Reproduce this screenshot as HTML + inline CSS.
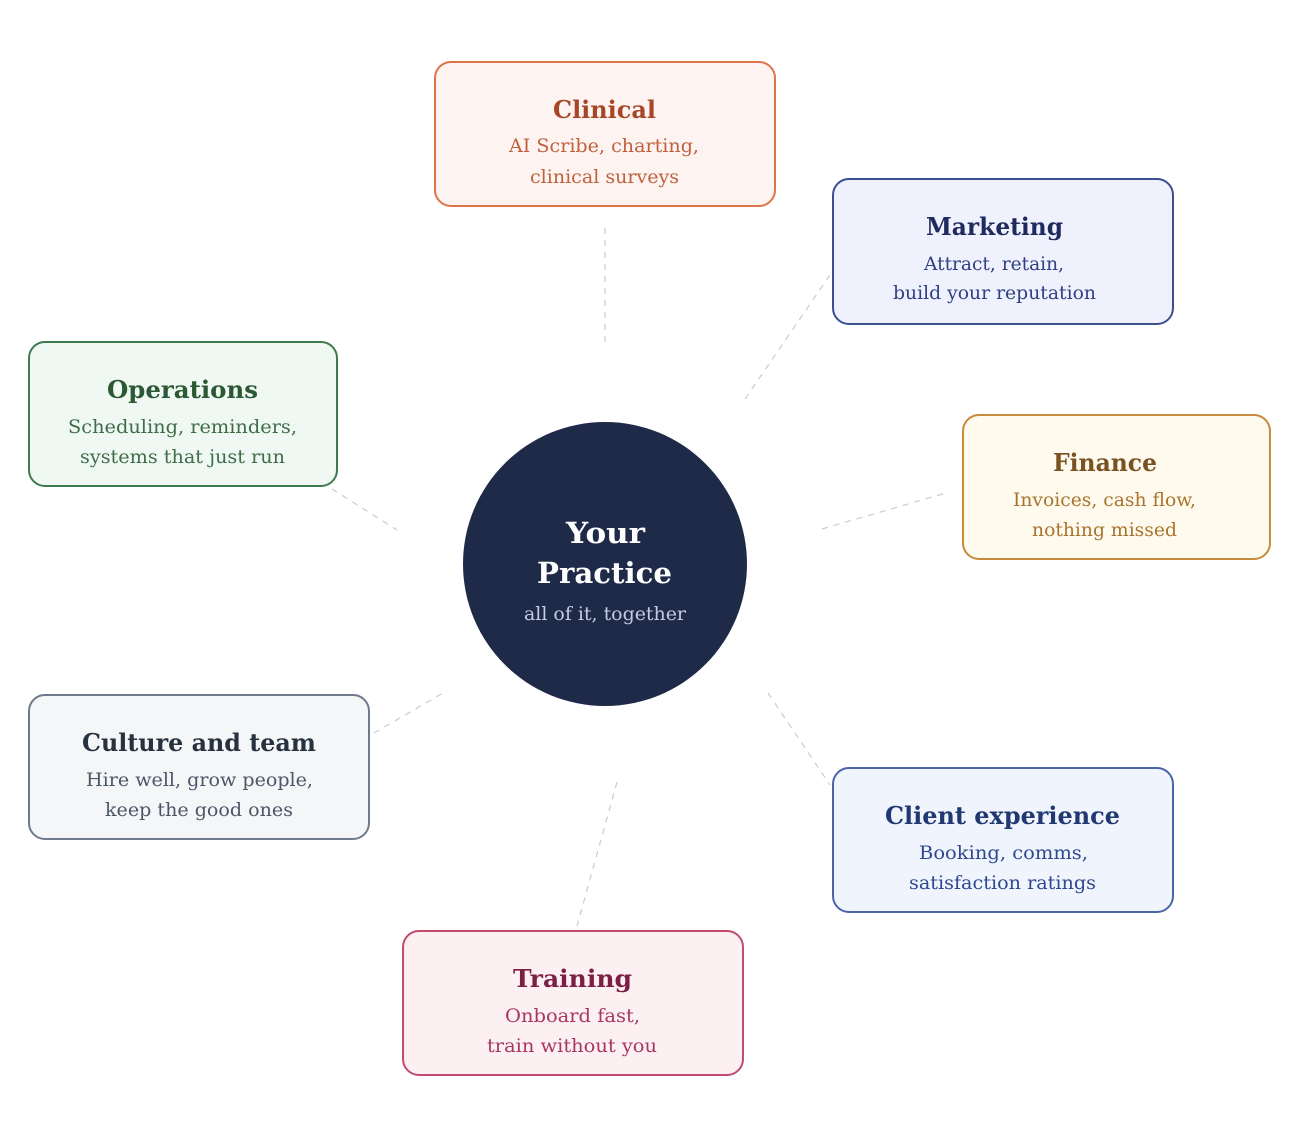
<!DOCTYPE html>
<html>
<head>
<meta charset="utf-8">
<style>
  html, body { margin:0; padding:0; background:#ffffff; }
  body { width:1295px; height:1137px; overflow:hidden; }
  svg { display:block; }
  .t { font-family: "DejaVu Serif", "Liberation Serif", serif; font-weight:bold; font-size:24px; }
  .b { font-family: "DejaVu Serif", "Liberation Serif", serif; font-size:19px; }
</style>
</head>
<body>
<svg width="1295" height="1137" viewBox="0 0 1295 1137" xmlns="http://www.w3.org/2000/svg">
  <!-- connectors -->
  <g stroke="#c6cbd7" stroke-width="1.2" stroke-dasharray="6 6" fill="none">
    <line x1="605" y1="228" x2="605" y2="346"/>
    <line x1="745" y1="399" x2="832" y2="272"/>
    <line x1="822" y1="529" x2="946" y2="493"/>
    <line x1="332" y1="489" x2="397" y2="530"/>
    <line x1="374" y1="733" x2="443" y2="693"/>
    <line x1="768" y1="693" x2="830" y2="785"/>
    <line x1="617" y1="782" x2="577" y2="926"/>
  </g>

  <!-- center -->
  <circle cx="605" cy="564" r="142" fill="#1e2a47"/>
  <text x="605.5" y="543" text-anchor="middle" class="t" style="font-size:29px" fill="#ffffff" textLength="79" lengthAdjust="spacingAndGlyphs">Your</text>
  <text x="604.5" y="583" text-anchor="middle" class="t" style="font-size:29px" fill="#ffffff" textLength="135" lengthAdjust="spacingAndGlyphs">Practice</text>
  <text x="605" y="620" text-anchor="middle" class="b" fill="#c3cde2" textLength="162" lengthAdjust="spacingAndGlyphs">all of it, together</text>

  <!-- Clinical -->
  <rect x="435" y="62" width="340" height="144" rx="16" fill="#fdf4f1" stroke="#dd7449" stroke-width="2"/>
  <text x="604.5" y="118" text-anchor="middle" class="t" fill="#a84628" textLength="103" lengthAdjust="spacingAndGlyphs">Clinical</text>
  <text x="604" y="152" text-anchor="middle" class="b" fill="#c0603c" textLength="190" lengthAdjust="spacingAndGlyphs">AI Scribe, charting,</text>
  <text x="604.5" y="183" text-anchor="middle" class="b" fill="#c0603c" textLength="149" lengthAdjust="spacingAndGlyphs">clinical surveys</text>

  <!-- Marketing -->
  <rect x="833" y="179" width="340" height="145" rx="16" fill="#eff2fd" stroke="#3b4f91" stroke-width="2"/>
  <text x="994.5" y="235" text-anchor="middle" class="t" fill="#1f2a5e" textLength="137" lengthAdjust="spacingAndGlyphs">Marketing</text>
  <text x="994" y="270" text-anchor="middle" class="b" fill="#2f4084" textLength="140" lengthAdjust="spacingAndGlyphs">Attract, retain,</text>
  <text x="994.5" y="299" text-anchor="middle" class="b" fill="#2f4084" textLength="203" lengthAdjust="spacingAndGlyphs">build your reputation</text>

  <!-- Finance -->
  <rect x="963" y="415" width="307" height="144" rx="16" fill="#fffaee" stroke="#c68b3c" stroke-width="2"/>
  <text x="1105" y="471" text-anchor="middle" class="t" fill="#7a5221" textLength="104" lengthAdjust="spacingAndGlyphs">Finance</text>
  <text x="1104.5" y="506" text-anchor="middle" class="b" fill="#a8742e" textLength="183" lengthAdjust="spacingAndGlyphs">Invoices, cash flow,</text>
  <text x="1104.5" y="536" text-anchor="middle" class="b" fill="#a8742e" textLength="145" lengthAdjust="spacingAndGlyphs">nothing missed</text>

  <!-- Operations -->
  <rect x="29" y="342" width="308" height="144" rx="16" fill="#f0f8f3" stroke="#3f7a4e" stroke-width="2"/>
  <text x="182.5" y="398" text-anchor="middle" class="t" fill="#2c5834" textLength="151" lengthAdjust="spacingAndGlyphs">Operations</text>
  <text x="182.5" y="433" text-anchor="middle" class="b" fill="#3e6d47" textLength="229" lengthAdjust="spacingAndGlyphs">Scheduling, reminders,</text>
  <text x="182.5" y="463" text-anchor="middle" class="b" fill="#3e6d47" textLength="205" lengthAdjust="spacingAndGlyphs">systems that just run</text>

  <!-- Culture and team -->
  <rect x="29" y="695" width="340" height="144" rx="16" fill="#f4f6f8" stroke="#6f7a8a" stroke-width="2"/>
  <text x="199" y="751" text-anchor="middle" class="t" fill="#27323f" textLength="234" lengthAdjust="spacingAndGlyphs">Culture and team</text>
  <text x="199.5" y="786" text-anchor="middle" class="b" fill="#4b5667" textLength="227" lengthAdjust="spacingAndGlyphs">Hire well, grow people,</text>
  <text x="199" y="816" text-anchor="middle" class="b" fill="#4b5667" textLength="188" lengthAdjust="spacingAndGlyphs">keep the good ones</text>

  <!-- Client experience -->
  <rect x="833" y="768" width="340" height="144" rx="16" fill="#eff4fd" stroke="#4b65a8" stroke-width="2"/>
  <text x="1002.5" y="824" text-anchor="middle" class="t" fill="#213872" textLength="235" lengthAdjust="spacingAndGlyphs">Client experience</text>
  <text x="1003.5" y="859" text-anchor="middle" class="b" fill="#2f4890" textLength="169" lengthAdjust="spacingAndGlyphs">Booking, comms,</text>
  <text x="1002.5" y="889" text-anchor="middle" class="b" fill="#2f4890" textLength="187" lengthAdjust="spacingAndGlyphs">satisfaction ratings</text>

  <!-- Training -->
  <rect x="403" y="931" width="340" height="144" rx="16" fill="#fcf0f3" stroke="#c24b6f" stroke-width="2"/>
  <text x="572.5" y="987" text-anchor="middle" class="t" fill="#7c1f45" textLength="119" lengthAdjust="spacingAndGlyphs">Training</text>
  <text x="572.5" y="1022" text-anchor="middle" class="b" fill="#a8385f" textLength="135" lengthAdjust="spacingAndGlyphs">Onboard fast,</text>
  <text x="572" y="1052" text-anchor="middle" class="b" fill="#a8385f" textLength="170" lengthAdjust="spacingAndGlyphs">train without you</text>
</svg>
</body>
</html>
